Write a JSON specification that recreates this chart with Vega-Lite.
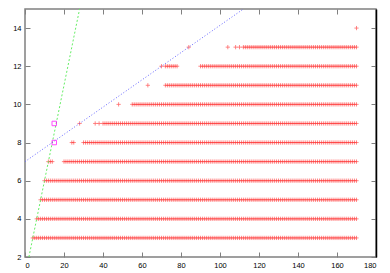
{
"$schema": "https://vega.github.io/schema/vega-lite/v6.json",
"width": 351, "height": 248,
"autosize": {"type": "none"},
"padding": {"left": 25, "top": 9, "right": 14, "bottom": 16},
"background": "white",
"config": {"view": {"stroke": "#808080", "strokeWidth": 1.5}, "axis": {"grid": false, "labelFont": "Liberation Sans", "labelFontSize": 7.5, "labelColor": "black", "tickColor": "#808080", "tickWidth": 1}},
"layer": [
{
"data": {"format": {"type": "csv"}, "values": "x,y\n4,3\n5,3\n6,3\n7,3\n8,3\n9,3\n10,3\n11,3\n12,3\n13,3\n14,3\n15,3\n16,3\n17,3\n18,3\n19,3\n20,3\n21,3\n22,3\n23,3\n24,3\n25,3\n26,3\n27,3\n28,3\n29,3\n30,3\n31,3\n32,3\n33,3\n34,3\n35,3\n36,3\n37,3\n38,3\n39,3\n40,3\n41,3\n42,3\n43,3\n44,3\n45,3\n46,3\n47,3\n48,3\n49,3\n50,3\n51,3\n52,3\n53,3\n54,3\n55,3\n56,3\n57,3\n58,3\n59,3\n60,3\n61,3\n62,3\n63,3\n64,3\n65,3\n66,3\n67,3\n68,3\n69,3\n70,3\n71,3\n72,3\n73,3\n74,3\n75,3\n76,3\n77,3\n78,3\n79,3\n80,3\n81,3\n82,3\n83,3\n84,3\n85,3\n86,3\n87,3\n88,3\n89,3\n90,3\n91,3\n92,3\n93,3\n94,3\n95,3\n96,3\n97,3\n98,3\n99,3\n100,3\n101,3\n102,3\n103,3\n104,3\n105,3\n106,3\n107,3\n108,3\n109,3\n110,3\n111,3\n112,3\n113,3\n114,3\n115,3\n116,3\n117,3\n118,3\n119,3\n120,3\n121,3\n122,3\n123,3\n124,3\n125,3\n126,3\n127,3\n128,3\n129,3\n130,3\n131,3\n132,3\n133,3\n134,3\n135,3\n136,3\n137,3\n138,3\n139,3\n140,3\n141,3\n142,3\n143,3\n144,3\n145,3\n146,3\n147,3\n148,3\n149,3\n150,3\n151,3\n152,3\n153,3\n154,3\n155,3\n156,3\n157,3\n158,3\n159,3\n160,3\n161,3\n162,3\n163,3\n164,3\n165,3\n166,3\n167,3\n168,3\n169,3\n170,3\n6,4\n7,4\n8,4\n9,4\n10,4\n11,4\n12,4\n13,4\n14,4\n15,4\n16,4\n17,4\n18,4\n19,4\n20,4\n21,4\n22,4\n23,4\n24,4\n25,4\n26,4\n27,4\n28,4\n29,4\n30,4\n31,4\n32,4\n33,4\n34,4\n35,4\n36,4\n37,4\n38,4\n39,4\n40,4\n41,4\n42,4\n43,4\n44,4\n45,4\n46,4\n47,4\n48,4\n49,4\n50,4\n51,4\n52,4\n53,4\n54,4\n55,4\n56,4\n57,4\n58,4\n59,4\n60,4\n61,4\n62,4\n63,4\n64,4\n65,4\n66,4\n67,4\n68,4\n69,4\n70,4\n71,4\n72,4\n73,4\n74,4\n75,4\n76,4\n77,4\n78,4\n79,4\n80,4\n81,4\n82,4\n83,4\n84,4\n85,4\n86,4\n87,4\n88,4\n89,4\n90,4\n91,4\n92,4\n93,4\n94,4\n95,4\n96,4\n97,4\n98,4\n99,4\n100,4\n101,4\n102,4\n103,4\n104,4\n105,4\n106,4\n107,4\n108,4\n109,4\n110,4\n111,4\n112,4\n113,4\n114,4\n115,4\n116,4\n117,4\n118,4\n119,4\n120,4\n121,4\n122,4\n123,4\n124,4\n125,4\n126,4\n127,4\n128,4\n129,4\n130,4\n131,4\n132,4\n133,4\n134,4\n135,4\n136,4\n137,4\n138,4\n139,4\n140,4\n141,4\n142,4\n143,4\n144,4\n145,4\n146,4\n147,4\n148,4\n149,4\n150,4\n151,4\n152,4\n153,4\n154,4\n155,4\n156,4\n157,4\n158,4\n159,4\n160,4\n161,4\n162,4\n163,4\n164,4\n165,4\n166,4\n167,4\n168,4\n169,4\n170,4\n8,5\n9,5\n10,5\n11,5\n12,5\n13,5\n14,5\n15,5\n16,5\n17,5\n18,5\n19,5\n20,5\n21,5\n22,5\n23,5\n24,5\n25,5\n26,5\n27,5\n28,5\n29,5\n30,5\n31,5\n32,5\n33,5\n34,5\n35,5\n36,5\n37,5\n38,5\n39,5\n40,5\n41,5\n42,5\n43,5\n44,5\n45,5\n46,5\n47,5\n48,5\n49,5\n50,5\n51,5\n52,5\n53,5\n54,5\n55,5\n56,5\n57,5\n58,5\n59,5\n60,5\n61,5\n62,5\n63,5\n64,5\n65,5\n66,5\n67,5\n68,5\n69,5\n70,5\n71,5\n72,5\n73,5\n74,5\n75,5\n76,5\n77,5\n78,5\n79,5\n80,5\n81,5\n82,5\n83,5\n84,5\n85,5\n86,5\n87,5\n88,5\n89,5\n90,5\n91,5\n92,5\n93,5\n94,5\n95,5\n96,5\n97,5\n98,5\n99,5\n100,5\n101,5\n102,5\n103,5\n104,5\n105,5\n106,5\n107,5\n108,5\n109,5\n110,5\n111,5\n112,5\n113,5\n114,5\n115,5\n116,5\n117,5\n118,5\n119,5\n120,5\n121,5\n122,5\n123,5\n124,5\n125,5\n126,5\n127,5\n128,5\n129,5\n130,5\n131,5\n132,5\n133,5\n134,5\n135,5\n136,5\n137,5\n138,5\n139,5\n140,5\n141,5\n142,5\n143,5\n144,5\n145,5\n146,5\n147,5\n148,5\n149,5\n150,5\n151,5\n152,5\n153,5\n154,5\n155,5\n156,5\n157,5\n158,5\n159,5\n160,5\n161,5\n162,5\n163,5\n164,5\n165,5\n166,5\n167,5\n168,5\n169,5\n170,5\n10,6\n11,6\n12,6\n13,6\n14,6\n15,6\n16,6\n17,6\n18,6\n19,6\n20,6\n21,6\n22,6\n23,6\n24,6\n25,6\n26,6\n27,6\n28,6\n29,6\n30,6\n31,6\n32,6\n33,6\n34,6\n35,6\n36,6\n37,6\n38,6\n39,6\n40,6\n41,6\n42,6\n43,6\n44,6\n45,6\n46,6\n47,6\n48,6\n49,6\n50,6\n51,6\n52,6\n53,6\n54,6\n55,6\n56,6\n57,6\n58,6\n59,6\n60,6\n61,6\n62,6\n63,6\n64,6\n65,6\n66,6\n67,6\n68,6\n69,6\n70,6\n71,6\n72,6\n73,6\n74,6\n75,6\n76,6\n77,6\n78,6\n79,6\n80,6\n81,6\n82,6\n83,6\n84,6\n85,6\n86,6\n87,6\n88,6\n89,6\n90,6\n91,6\n92,6\n93,6\n94,6\n95,6\n96,6\n97,6\n98,6\n99,6\n100,6\n101,6\n102,6\n103,6\n104,6\n105,6\n106,6\n107,6\n108,6\n109,6\n110,6\n111,6\n112,6\n113,6\n114,6\n115,6\n116,6\n117,6\n118,6\n119,6\n120,6\n121,6\n122,6\n123,6\n124,6\n125,6\n126,6\n127,6\n128,6\n129,6\n130,6\n131,6\n132,6\n133,6\n134,6\n135,6\n136,6\n137,6\n138,6\n139,6\n140,6\n141,6\n142,6\n143,6\n144,6\n145,6\n146,6\n147,6\n148,6\n149,6\n150,6\n151,6\n152,6\n153,6\n154,6\n155,6\n156,6\n157,6\n158,6\n159,6\n160,6\n161,6\n162,6\n163,6\n164,6\n165,6\n166,6\n167,6\n168,6\n169,6\n170,6\n12,7\n13,7\n14,7\n20,7\n21,7\n22,7\n23,7\n24,7\n25,7\n26,7\n27,7\n28,7\n29,7\n30,7\n31,7\n32,7\n33,7\n34,7\n35,7\n36,7\n37,7\n38,7\n39,7\n40,7\n41,7\n42,7\n43,7\n44,7\n45,7\n46,7\n47,7\n48,7\n49,7\n50,7\n51,7\n52,7\n53,7\n54,7\n55,7\n56,7\n57,7\n58,7\n59,7\n60,7\n61,7\n62,7\n63,7\n64,7\n65,7\n66,7\n67,7\n68,7\n69,7\n70,7\n71,7\n72,7\n73,7\n74,7\n75,7\n76,7\n77,7\n78,7\n79,7\n80,7\n81,7\n82,7\n83,7\n84,7\n85,7\n86,7\n87,7\n88,7\n89,7\n90,7\n91,7\n92,7\n93,7\n94,7\n95,7\n96,7\n97,7\n98,7\n99,7\n100,7\n101,7\n102,7\n103,7\n104,7\n105,7\n106,7\n107,7\n108,7\n109,7\n110,7\n111,7\n112,7\n113,7\n114,7\n115,7\n116,7\n117,7\n118,7\n119,7\n120,7\n121,7\n122,7\n123,7\n124,7\n125,7\n126,7\n127,7\n128,7\n129,7\n130,7\n131,7\n132,7\n133,7\n134,7\n135,7\n136,7\n137,7\n138,7\n139,7\n140,7\n141,7\n142,7\n143,7\n144,7\n145,7\n146,7\n147,7\n148,7\n149,7\n150,7\n151,7\n152,7\n153,7\n154,7\n155,7\n156,7\n157,7\n158,7\n159,7\n160,7\n161,7\n162,7\n163,7\n164,7\n165,7\n166,7\n167,7\n168,7\n169,7\n170,7\n24,8\n25,8\n30,8\n31,8\n32,8\n33,8\n34,8\n35,8\n36,8\n37,8\n38,8\n39,8\n40,8\n41,8\n42,8\n43,8\n44,8\n45,8\n46,8\n47,8\n48,8\n49,8\n50,8\n51,8\n52,8\n53,8\n54,8\n55,8\n56,8\n57,8\n58,8\n59,8\n60,8\n61,8\n62,8\n63,8\n64,8\n65,8\n66,8\n67,8\n68,8\n69,8\n70,8\n71,8\n72,8\n73,8\n74,8\n75,8\n76,8\n77,8\n78,8\n79,8\n80,8\n81,8\n82,8\n83,8\n84,8\n85,8\n86,8\n87,8\n88,8\n89,8\n90,8\n91,8\n92,8\n93,8\n94,8\n95,8\n96,8\n97,8\n98,8\n99,8\n100,8\n101,8\n102,8\n103,8\n104,8\n105,8\n106,8\n107,8\n108,8\n109,8\n110,8\n111,8\n112,8\n113,8\n114,8\n115,8\n116,8\n117,8\n118,8\n119,8\n120,8\n121,8\n122,8\n123,8\n124,8\n125,8\n126,8\n127,8\n128,8\n129,8\n130,8\n131,8\n132,8\n133,8\n134,8\n135,8\n136,8\n137,8\n138,8\n139,8\n140,8\n141,8\n142,8\n143,8\n144,8\n145,8\n146,8\n147,8\n148,8\n149,8\n150,8\n151,8\n152,8\n153,8\n154,8\n155,8\n156,8\n157,8\n158,8\n159,8\n160,8\n161,8\n162,8\n163,8\n164,8\n165,8\n166,8\n167,8\n168,8\n169,8\n170,8\n28,9\n36,9\n38,9\n40,9\n41,9\n42,9\n43,9\n44,9\n45,9\n46,9\n47,9\n48,9\n49,9\n50,9\n51,9\n52,9\n53,9\n54,9\n55,9\n56,9\n57,9\n58,9\n59,9\n60,9\n61,9\n62,9\n63,9\n64,9\n65,9\n66,9\n67,9\n68,9\n69,9\n70,9\n71,9\n72,9\n73,9\n74,9\n75,9\n76,9\n77,9\n78,9\n79,9\n80,9\n81,9\n82,9\n83,9\n84,9\n85,9\n86,9\n87,9\n88,9\n89,9\n90,9\n91,9\n92,9\n93,9\n94,9\n95,9\n96,9\n97,9\n98,9\n99,9\n100,9\n101,9\n102,9\n103,9\n104,9\n105,9\n106,9\n107,9\n108,9\n109,9\n110,9\n111,9\n112,9\n113,9\n114,9\n115,9\n116,9\n117,9\n118,9\n119,9\n120,9\n121,9\n122,9\n123,9\n124,9\n125,9\n126,9\n127,9\n128,9\n129,9\n130,9\n131,9\n132,9\n133,9\n134,9\n135,9\n136,9\n137,9\n138,9\n139,9\n140,9\n141,9\n142,9\n143,9\n144,9\n145,9\n146,9\n147,9\n148,9\n149,9\n150,9\n151,9\n152,9\n153,9\n154,9\n155,9\n156,9\n157,9\n158,9\n159,9\n160,9\n161,9\n162,9\n163,9\n164,9\n165,9\n166,9\n167,9\n168,9\n169,9\n170,9\n48,10\n55,10\n56,10\n57,10\n58,10\n59,10\n60,10\n61,10\n62,10\n63,10\n64,10\n65,10\n66,10\n67,10\n68,10\n69,10\n70,10\n71,10\n72,10\n73,10\n74,10\n75,10\n76,10\n77,10\n78,10\n79,10\n80,10\n81,10\n82,10\n83,10\n84,10\n85,10\n86,10\n87,10\n88,10\n89,10\n90,10\n91,10\n92,10\n93,10\n94,10\n95,10\n96,10\n97,10\n98,10\n99,10\n100,10\n101,10\n102,10\n103,10\n104,10\n105,10\n106,10\n107,10\n108,10\n109,10\n110,10\n111,10\n112,10\n113,10\n114,10\n115,10\n116,10\n117,10\n118,10\n119,10\n120,10\n121,10\n122,10\n123,10\n124,10\n125,10\n126,10\n127,10\n128,10\n129,10\n130,10\n131,10\n132,10\n133,10\n134,10\n135,10\n136,10\n137,10\n138,10\n139,10\n140,10\n141,10\n142,10\n143,10\n144,10\n145,10\n146,10\n147,10\n148,10\n149,10\n150,10\n151,10\n152,10\n153,10\n154,10\n155,10\n156,10\n157,10\n158,10\n159,10\n160,10\n161,10\n162,10\n163,10\n164,10\n165,10\n166,10\n167,10\n168,10\n169,10\n170,10\n63,11\n72,11\n73,11\n74,11\n75,11\n76,11\n77,11\n78,11\n79,11\n80,11\n81,11\n82,11\n83,11\n84,11\n85,11\n86,11\n87,11\n88,11\n89,11\n90,11\n91,11\n92,11\n93,11\n94,11\n95,11\n96,11\n97,11\n98,11\n99,11\n100,11\n101,11\n102,11\n103,11\n104,11\n105,11\n106,11\n107,11\n108,11\n109,11\n110,11\n111,11\n112,11\n113,11\n114,11\n115,11\n116,11\n117,11\n118,11\n119,11\n120,11\n121,11\n122,11\n123,11\n124,11\n125,11\n126,11\n127,11\n128,11\n129,11\n130,11\n131,11\n132,11\n133,11\n134,11\n135,11\n136,11\n137,11\n138,11\n139,11\n140,11\n141,11\n142,11\n143,11\n144,11\n145,11\n146,11\n147,11\n148,11\n149,11\n150,11\n151,11\n152,11\n153,11\n154,11\n155,11\n156,11\n157,11\n158,11\n159,11\n160,11\n161,11\n162,11\n163,11\n164,11\n165,11\n166,11\n167,11\n168,11\n169,11\n170,11\n70,12\n72,12\n73,12\n74,12\n75,12\n76,12\n77,12\n78,12\n90,12\n91,12\n92,12\n93,12\n94,12\n95,12\n96,12\n97,12\n98,12\n99,12\n100,12\n101,12\n102,12\n103,12\n104,12\n105,12\n106,12\n107,12\n108,12\n109,12\n110,12\n111,12\n112,12\n113,12\n114,12\n115,12\n116,12\n117,12\n118,12\n119,12\n120,12\n121,12\n122,12\n123,12\n124,12\n125,12\n126,12\n127,12\n128,12\n129,12\n130,12\n131,12\n132,12\n133,12\n134,12\n135,12\n136,12\n137,12\n138,12\n139,12\n140,12\n141,12\n142,12\n143,12\n144,12\n145,12\n146,12\n147,12\n148,12\n149,12\n150,12\n151,12\n152,12\n153,12\n154,12\n155,12\n156,12\n157,12\n158,12\n159,12\n160,12\n161,12\n162,12\n163,12\n164,12\n165,12\n166,12\n167,12\n168,12\n169,12\n170,12\n84,13\n104,13\n108,13\n110,13\n112,13\n113,13\n114,13\n115,13\n116,13\n117,13\n118,13\n119,13\n120,13\n121,13\n122,13\n123,13\n124,13\n125,13\n126,13\n127,13\n128,13\n129,13\n130,13\n131,13\n132,13\n133,13\n134,13\n135,13\n136,13\n137,13\n138,13\n139,13\n140,13\n141,13\n142,13\n143,13\n144,13\n145,13\n146,13\n147,13\n148,13\n149,13\n150,13\n151,13\n152,13\n153,13\n154,13\n155,13\n156,13\n157,13\n158,13\n159,13\n160,13\n161,13\n162,13\n163,13\n164,13\n165,13\n166,13\n167,13\n168,13\n169,13\n170,13\n170,14"},
"mark": {"type": "point", "shape": "M-1,0H1M0,-1V1", "filled": false, "stroke": "#ff2a2a", "strokeWidth": 0.8, "size": 18, "opacity": 0.7},
"encoding": {
"x": {"field": "x", "type": "quantitative", "scale": {"domain": [0, 180], "nice": false}, "axis": {"orient": "bottom", "title": null, "values": [0,20,40,60,80,100,120,140,160,180], "tickSize": -5, "labelPadding": 9, "domain": false}},
"y": {"field": "y", "type": "quantitative", "scale": {"domain": [2, 15], "nice": false, "zero": false}, "axis": {"orient": "left", "title": null, "values": [2,4,6,8,10,12,14], "tickSize": -5, "labelPadding": 9, "domain": false}}
}
},
{
"data": {"values": [{"x": 2, "y": 2}, {"x": 28, "y": 15}]},
"mark": {"type": "line", "stroke": "#66ee66", "strokeWidth": 1, "strokeDash": [2, 2], "clip": true},
"encoding": {
"x": {"field": "x", "type": "quantitative", "axis": {"orient": "top", "title": null, "labels": false, "values": [0,20,40,60,80,100,120,140,160,180], "tickSize": -5, "domain": false}},
"y": {"field": "y", "type": "quantitative", "axis": {"orient": "right", "title": null, "labels": false, "values": [2,4,6,8,10,12,14], "tickSize": -5, "domain": true, "domainColor": "black", "domainWidth": 1.5}}
}
},
{
"data": {"values": [{"x": 0, "y": 7}, {"x": 112, "y": 15}]},
"mark": {"type": "line", "stroke": "#6666ff", "strokeWidth": 1, "strokeDash": [1, 2], "clip": true},
"encoding": {
"x": {"field": "x", "type": "quantitative", "axis": null},
"y": {"field": "y", "type": "quantitative", "axis": null}
}
},
{
"data": {"values": [{"x": 15, "y": 8}, {"x": 15, "y": 9}]},
"mark": {"type": "point", "shape": "square", "filled": false, "stroke": "#ff00ff", "strokeWidth": 1, "size": 20},
"encoding": {
"x": {"field": "x", "type": "quantitative", "axis": null},
"y": {"field": "y", "type": "quantitative", "axis": null}
}
}
],
"resolve": {"axis": {"x": "independent", "y": "independent"}}
}
